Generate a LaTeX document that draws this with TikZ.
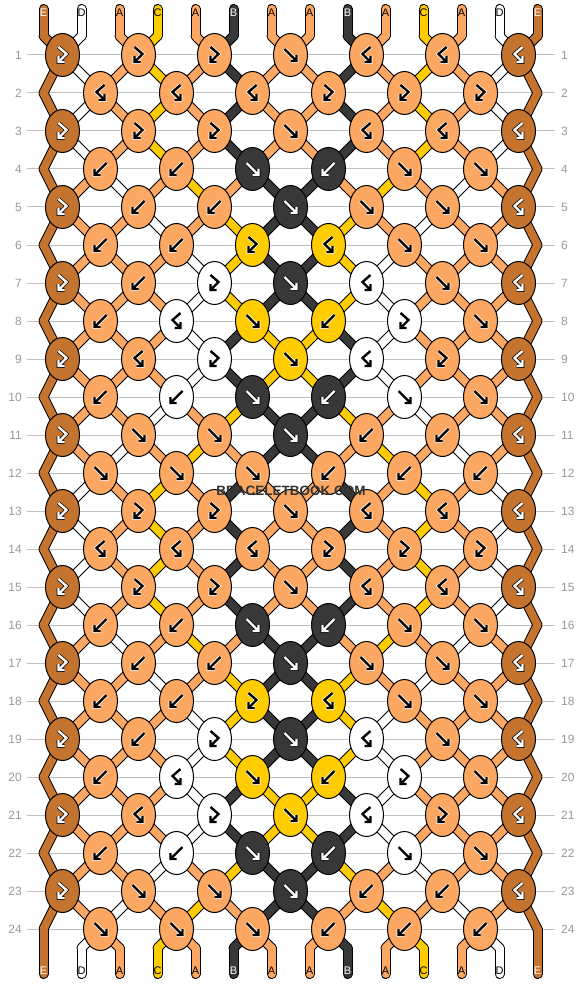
\documentclass[tikz,border=0pt]{standalone}
\usepackage{fontspec}
\setmainfont{Liberation Sans}
\usetikzlibrary{shapes.geometric}

\definecolor{colE}{HTML}{C4742F}
\definecolor{colD}{HTML}{FFFFFF}
\definecolor{colA}{HTML}{FDA862}
\definecolor{colC}{HTML}{FFCC00}
\definecolor{colB}{HTML}{383838}
\definecolor{gridgray}{HTML}{BFBFBF}
\definecolor{numgray}{HTML}{999999}

\tikzset{
  knot/.style={ellipse, draw=black, line width=1pt, minimum width=34pt,
    minimum height=43pt, inner sep=0pt},
  strout/.style={line width=10pt, line cap=round, draw=black},
  strin/.style={line width=8pt, line cap=round},
  gridline/.style={draw=gridgray, line width=1pt},
  rownum/.style={text=numgray, font=\fontsize{12}{12}\selectfont, inner sep=0pt},
  endlabel/.style={font=\fontsize{11}{11}\selectfont, inner sep=0pt},
  glyphrim/.style={line width=3.8pt, line join=miter},
  glyphpen/.style={line width=2.4pt, line join=miter},
}

% knot types: 1 forward, 2 backward, 3 forward-backward, 4 backward-forward
\newcommand\rowtypes[1]{\ifcase#1\or
  3,3,3,1,4,4,4\or
  4,4,4,3,3,3\or
  3,3,3,1,4,4,4\or
  2,2,1,2,1,1\or
  3,2,2,1,1,1,4\or
  2,2,3,4,1,1\or
  3,2,3,1,4,1,4\or
  2,4,1,2,3,1\or
  3,4,3,1,4,3,4\or
  2,2,1,2,1,1\or
  3,1,1,1,2,2,4\or
  1,1,1,2,2,2\fi}

% arrow drawn inside a knot
\newcommand\glyphpath[1]{\ifcase#1\or
  (-6,-6) -- (6,6) (6,0) -- (6,6) -- (0,6)\or
  (6,-6) -- (-6,6) (-6,0) -- (-6,6) -- (0,6)\or
  (-4,-8) -- (4,-1) -- (-4,7) (-4,1) -- (-4,7) -- (2,7)\or
  (4,-8) -- (-4,-1) -- (4,7) (4,1) -- (4,7) -- (-2,7)\fi}

\def\letE{E}\def\letB{B}
\newcommand\inkfor[1]{\edef\inkcol{#1}%
  \ifx\inkcol\letE\def\ink{white}\def\rim{black}%
  \else\ifx\inkcol\letB\def\ink{white}\def\rim{black}%
  \else\def\ink{black}\def\rim{white}\fi\fi}

% walks the strings through the pattern and calls \onpoint, \onseg, \onknot
\newcommand\runbraid{%
  \foreach \s [count=\i from 0] in {E,D,A,C,A,B,A,A,B,A,C,A,D,E} {
    \pgfmathsetmacro\sx{43.5+38*\i}
    \expandafter\xdef\csname sc\i\endcsname{\s}
    \expandafter\xdef\csname ln\i\endcsname{t-\i}
    \onpoint{top-\i}{\sx}{9}
    \onpoint{t-\i}{\sx}{36}
    \onseg{top-\i}{t-\i}{\s}
  }
  \foreach \rr in {1,...,24} {
    \pgfmathtruncatemacro\cyc{mod(\rr-1,12)+1}
    \pgfmathtruncatemacro\odd{mod(\rr,2)}
    \pgfmathsetmacro\yy{55+38*(\rr-1)}
    \edef\types{\rowtypes{\cyc}}
    \foreach \kt [count=\jj from 0] in \types {
      \pgfmathtruncatemacro\pl{2*\jj+1-\odd}
      \pgfmathtruncatemacro\pr{\pl+1}
      \pgfmathsetmacro\xx{62.5+38*\pl}
      \edef\lc{\csname sc\pl\endcsname}
      \edef\rc{\csname sc\pr\endcsname}
      \ifnum\kt=2 \edef\kc{\rc}\else\ifnum\kt=4 \edef\kc{\rc}\else\edef\kc{\lc}\fi\fi
      \onpoint{p-\rr-\pl}{\xx}{\yy}
      \edef\la{\csname ln\pl\endcsname}
      \edef\ra{\csname ln\pr\endcsname}
      \onseg{\la}{p-\rr-\pl}{\lc}
      \onseg{\ra}{p-\rr-\pl}{\rc}
      \onknot{\rr-\pl}{\kt}{\kc}
      \expandafter\xdef\csname ln\pl\endcsname{p-\rr-\pl}
      \expandafter\xdef\csname ln\pr\endcsname{p-\rr-\pl}
      \ifnum\kt<3
        \expandafter\xdef\csname sc\pl\endcsname{\rc}
        \expandafter\xdef\csname sc\pr\endcsname{\lc}
      \fi
    }
    \ifnum\odd=0
      \foreach \ee in {0,13} {
        \pgfmathsetmacro\ex{43.5+38*\ee}
        \onpoint{z-\rr-\ee}{\ex}{\yy}
        \edef\la{\csname ln\ee\endcsname}
        \edef\lc{\csname sc\ee\endcsname}
        \onseg{\la}{z-\rr-\ee}{\lc}
        \expandafter\xdef\csname ln\ee\endcsname{z-\rr-\ee}
      }
    \fi
  }
  \foreach \i in {0,...,13} {
    \pgfmathsetmacro\sx{43.5+38*\i}
    \onpoint{b-\i}{\sx}{948}
    \onpoint{bot-\i}{\sx}{974}
    \edef\la{\csname ln\i\endcsname}
    \edef\lc{\csname sc\i\endcsname}
    \onseg{\la}{b-\i}{\lc}
    \onseg{b-\i}{bot-\i}{\lc}
  }}

\begin{document}
\begin{tikzpicture}[x=1pt, y=-1pt]
\useasboundingbox (0,0) rectangle (582,984);
\fill[white] (0,0) rectangle (582,984);

% row lines and numbers
\foreach \rr in {1,...,24} {
  \pgfmathsetmacro\yy{55+38*(\rr-1)}
  \draw[gridline] (27,\yy) -- (555,\yy);
  \node[rownum, anchor=east] (nl-\rr) at (22,\yy) {\rr};
  \node[rownum, anchor=west] (nr-\rr) at (561,\yy) {\rr};
}

% pass 1: string outlines
\def\onpoint#1#2#3{\coordinate (#1) at (#2,#3);}
\def\onseg#1#2#3{\draw[strout] (#1) -- (#2);}
\def\onknot#1#2#3{}
\runbraid

% pass 2: string colours
\def\onpoint#1#2#3{}
\def\onseg#1#2#3{\edef\segcol{col#3}\draw[strin, draw=\segcol] (#1) -- (#2);}
\runbraid

% pass 3: knots
\def\onseg#1#2#3{}
\def\onknot#1#2#3{\edef\kfill{col#3}\inkfor{#3}%
  \node[knot, fill=\kfill] (k-#1) at (p-#1) {};
  \edef\gp{\glyphpath{#2}}%
  \begin{scope}[shift={(p-#1)}]
    \draw[glyphrim, draw=\rim] \gp;
    \draw[glyphpen, draw=\ink] \gp;
  \end{scope}}
\runbraid

% string names
\foreach \s [count=\i from 0] in {E,D,A,C,A,B,A,A,B,A,C,A,D,E} {
  \inkfor{\s}
  \node[endlabel, text=\ink] (lt-\i) at (top-\i |- 0,13) {\s};
  \node[endlabel, text=\ink] (lb-\i) at (top-\i |- 0,971) {\s};
}

\node[font=\bfseries\fontsize{13.5}{13.5}\selectfont, text=black!80] (mark) at (291,491) {BRACELETBOOK.COM};
\end{tikzpicture}
\end{document}
